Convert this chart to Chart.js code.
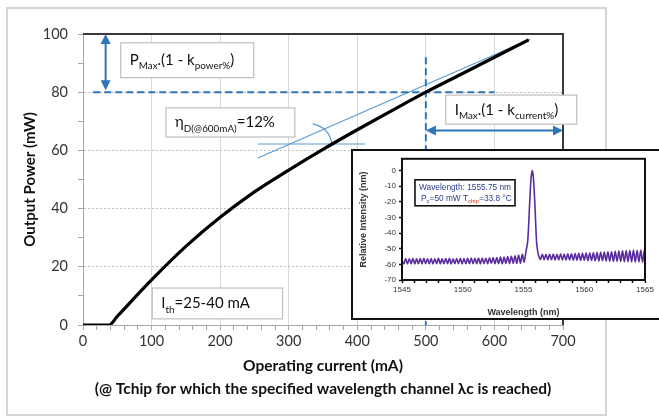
<!DOCTYPE html>
<html>
<head>
<meta charset="utf-8">
<script src="https://cdn.jsdelivr.net/npm/chart.js@4.4.1/dist/chart.umd.min.js"></script>
<style>
html, body { margin: 0; padding: 0; background: #fff; overflow: hidden; }
#wrap { position: relative; width: 659px; height: 418px; overflow: hidden; }
#inset { position: absolute; left: 351px; top: 149px; width: 330px; height: 171px;
         box-sizing: border-box; border: 2px solid #111; background: #fff; }
</style>
</head>
<body>
<div id="wrap">
  <canvas id="mainChart" width="659" height="418"></canvas>
  <div id="inset"><canvas id="specChart" width="326" height="167"></canvas></div>
</div>
<script>
// L-I curve (operating current vs output power)
const currentMa = [0, 20, 38, 50, 100, 150, 200, 250, 300, 350, 400, 450, 500, 550, 600, 650];
const powerMw   = [0, 0, 0, 3, 15.5, 27, 37, 45.75, 53.25, 60.35, 67.1, 73.6, 80, 86, 92, 98];

const xTicksMa  = [0, 100, 200, 300, 400, 500, 600, 700];
const yTicksMw  = [0, 20, 40, 60, 80, 100];

// spectrum for the inset
const specWl = [
  1545, 1545.15, 1545.3, 1545.45, 1545.6, 1545.75, 1545.9, 1546.05, 1546.2, 1546.35,
  1546.5, 1546.65, 1546.8, 1546.95, 1547.1, 1547.25, 1547.4, 1547.55, 1547.7, 1547.85,
  1548, 1548.15, 1548.3, 1548.45, 1548.6, 1548.75, 1548.9, 1549.05, 1549.2, 1549.35,
  1549.5, 1549.65, 1549.8, 1549.95, 1550.1, 1550.25, 1550.4, 1550.55, 1550.7, 1550.85,
  1551, 1551.15, 1551.3, 1551.45, 1551.6, 1551.75, 1551.9, 1552.05, 1552.2, 1552.35,
  1552.5, 1552.65, 1552.8, 1552.95, 1553.1, 1553.25, 1553.4, 1553.55, 1553.7, 1553.85,
  1554, 1554.15, 1554.3, 1554.45, 1554.6, 1554.75, 1554.9, 1555.05,
  1555.2, 1555.35, 1555.5, 1555.62, 1555.72, 1555.82, 1555.95, 1556.08, 1556.2, 1556.3,
  1556.4, 1556.55, 1556.7, 1556.85, 1557, 1557.15, 1557.3, 1557.45, 1557.6, 1557.75,
  1557.9, 1558.05, 1558.2, 1558.35, 1558.5, 1558.65, 1558.8, 1558.95, 1559.1, 1559.25,
  1559.4, 1559.55, 1559.7, 1559.85, 1560, 1560.15, 1560.3, 1560.45, 1560.6, 1560.75,
  1560.9, 1561.05, 1561.2, 1561.35, 1561.5, 1561.65, 1561.8, 1561.95, 1562.1, 1562.25,
  1562.4, 1562.55, 1562.7, 1562.85, 1563, 1563.15, 1563.3, 1563.45, 1563.6, 1563.75,
  1563.9, 1564.05, 1564.2, 1564.35, 1564.5, 1564.65, 1564.8, 1564.95, 1565
];
const specDb = [
  -57.5, -59.6, -56.3, -59.7, -56.4, -59.5, -56.2, -59.8, -56.5, -59.6,
  -56.3, -59.7, -56.2, -59.5, -56.4, -59.6, -56.3, -59.8, -56.4, -59.5,
  -56.2, -59.7, -56.5, -59.6, -56.3, -59.5, -56.2, -59.7, -56.4, -59.6,
  -56.3, -59.5, -56.1, -59.7, -56.3, -59.6, -56.2, -59.5, -56.0, -59.6,
  -56.2, -59.5, -56.0, -59.7, -55.9, -59.5, -56.1, -59.6, -55.8, -59.4,
  -55.7, -59.6, -55.6, -59.5, -55.4, -59.6, -55.3, -59.4, -55.0, -59.5,
  -54.8, -59.3, -54.5, -59.4, -54.0, -59.2, -53.5, -58.5,
  -52, -45, -22, -5, 0, -5, -24, -46, -53, -55.5,
  -56.8, -53.6, -57.0, -53.5, -57.1, -53.6, -57.0, -53.4, -57.2, -53.5,
  -57.1, -53.3, -57.2, -53.4, -57.3, -53.2, -57.2, -53.3, -57.4, -53.1,
  -57.3, -53.0, -57.5, -52.9, -57.4, -52.8, -57.6, -52.7, -57.5, -52.6,
  -57.7, -52.5, -57.8, -52.3, -57.7, -52.2, -57.9, -52.0, -58.0, -51.9,
  -58.1, -51.7, -58.0, -51.5, -58.2, -51.4, -58.3, -51.2, -58.3, -51.0,
  -58.4, -50.9, -58.5, -51.0, -58.4, -50.8, -58.6, -51.0, -57.0
];
const specXTicks = [1545, 1550, 1555, 1560, 1565];

// annotation geometry, in data units of the main chart
const pMaxTop = 100, pMaxLevel = 80, pArrowAt = 33;
const iMaxLevel = 500, iArrowTo = 700, iArrowAt = 66.8;
const dashFromMa = 15, dashToMa = 600, vDashTop = 92;
const tangentFrom = [255, 57.4], tangentTo = [652, 98.2];
const refLevel = 62.2, refFromMa = 255, refToMa = 411;
const arcPts = [[335, 69.1], [360, 67.7], [363, 62.2]];

const labelBoxes = [
  { x0: 55,  x1: 249, y0: 97,   y1: 85,  parts: [{t: 'P'}, {t: 'Max', sub: true}, {t: '.(1 - k'}, {t: 'power%', sub: true}, {t: ')'}] },
  { x0: 121, x1: 309, y0: 74.6, y1: 64.6, parts: [{t: 'η'}, {t: 'D(@600mA)', sub: true}, {t: '=12%'}] },
  { x0: 529, x1: 720, y0: 79,   y1: 69,  parts: [{t: 'I'}, {t: 'Max', sub: true}, {t: '.(1 - k'}, {t: 'current%', sub: true}, {t: ')'}] },
  { x0: 101, x1: 291, y0: 12.7, y1: 2.1, parts: [{t: 'I'}, {t: 'th', sub: true}, {t: '=25-40 mA'}] }
];

const FONT = 'Lato, "Open Sans", sans-serif';
const blue = '#2e75b6';
const thinBlue = '#5b9bd5';

function seg(ctx, x1, y1, x2, y2) {
  ctx.beginPath(); ctx.moveTo(x1, y1); ctx.lineTo(x2, y2); ctx.stroke();
}

function head(ctx, x, y, ang) {
  const L = 10, W = 5;
  ctx.beginPath();
  ctx.moveTo(x, y);
  ctx.lineTo(x - L * Math.cos(ang) + W * Math.sin(ang), y - L * Math.sin(ang) - W * Math.cos(ang));
  ctx.lineTo(x - L * Math.cos(ang) - W * Math.sin(ang), y - L * Math.sin(ang) + W * Math.cos(ang));
  ctx.closePath(); ctx.fill();
}

function dblArrow(ctx, x1, y1, x2, y2) {
  const a = Math.atan2(y2 - y1, x2 - x1);
  seg(ctx, x1 + 6 * Math.cos(a), y1 + 6 * Math.sin(a), x2 - 6 * Math.cos(a), y2 - 6 * Math.sin(a));
  head(ctx, x2, y2, a);
  head(ctx, x1, y1, a + Math.PI);
}

function richText(ctx, parts, x, y, size) {
  let cx = x;
  parts.forEach(p => {
    const s = p.sub ? size * 0.66 : size;
    ctx.font = s + 'px ' + FONT;
    ctx.fillStyle = p.color || '#111';
    ctx.fillText(p.t, cx, p.sub ? y + size * 0.28 : y);
    cx += ctx.measureText(p.t).width;
  });
}

const mainDecor = {
  id: 'mainDecor',
  beforeDraw(chart) {
    const ctx = chart.ctx;
    ctx.save();
    ctx.fillStyle = '#fff';
    ctx.fillRect(0, 0, chart.width, chart.height);
    ctx.strokeStyle = '#d4d4d4';
    ctx.lineWidth = 2;
    ctx.strokeRect(7, 8, 599, 407);
    ctx.restore();
  },
  beforeDatasetsDraw(chart) {
    const {ctx, scales: {x, y}} = chart;
    const px = v => x.getPixelForValue(v), py = v => y.getPixelForValue(v);
    ctx.save();
    // slope construction
    ctx.strokeStyle = thinBlue; ctx.lineWidth = 1.2;
    seg(ctx, px(tangentFrom[0]), py(tangentFrom[1]), px(tangentTo[0]), py(tangentTo[1]));
    seg(ctx, px(refFromMa), py(refLevel), px(refToMa), py(refLevel));
    ctx.beginPath();
    ctx.moveTo(px(arcPts[0][0]), py(arcPts[0][1]));
    ctx.quadraticCurveTo(px(arcPts[1][0]), py(arcPts[1][1]), px(arcPts[2][0]), py(arcPts[2][1]));
    ctx.stroke();
    // dashed limits
    ctx.strokeStyle = blue; ctx.lineWidth = 2; ctx.setLineDash([7, 4]);
    seg(ctx, px(dashFromMa), py(pMaxLevel), px(dashToMa), py(pMaxLevel));
    seg(ctx, px(iMaxLevel), py(vDashTop), px(iMaxLevel), py(0));
    ctx.restore();
  },
  afterDatasetsDraw(chart) {
    const {ctx, chartArea: ca, scales: {x, y}} = chart;
    const px = v => x.getPixelForValue(v), py = v => y.getPixelForValue(v);
    ctx.save();
    // top and right frame of the plot area
    ctx.strokeStyle = '#3a3a3a'; ctx.lineWidth = 2;
    ctx.beginPath(); ctx.moveTo(ca.left, ca.top); ctx.lineTo(ca.right, ca.top); ctx.lineTo(ca.right, ca.bottom); ctx.stroke();
    // arrows
    ctx.strokeStyle = blue; ctx.fillStyle = blue; ctx.lineWidth = 2;
    dblArrow(ctx, px(pArrowAt), py(pMaxTop), px(pArrowAt), py(pMaxLevel) - 2);
    dblArrow(ctx, px(iMaxLevel), py(iArrowAt), px(iArrowTo), py(iArrowAt));
    // label boxes
    ctx.textBaseline = 'alphabetic'; ctx.textAlign = 'left';
    labelBoxes.forEach(b => {
      const l = px(b.x0), r = px(b.x1), t = py(b.y0), btm = py(b.y1);
      ctx.fillStyle = '#fff';
      ctx.fillRect(l, t, r - l, btm - t);
      ctx.strokeStyle = '#bfbfbf'; ctx.lineWidth = 1.2;
      ctx.strokeRect(l, t, r - l, btm - t);
      richText(ctx, b.parts, l + 9, (t + btm) / 2 + 5, 15);
    });
    ctx.restore();
  }
};

new Chart(document.getElementById('mainChart'), {
  type: 'scatter',
  data: {
    datasets: [{
      data: currentMa.map((c, i) => ({x: c, y: powerMw[i]})),
      showLine: true,
      borderColor: '#000',
      borderWidth: 3.2,
      pointRadius: 0,
      cubicInterpolationMode: 'monotone'
    }]
  },
  options: {
    responsive: false,
    animation: false,
    devicePixelRatio: 1,
    layout: { padding: { left: 17, right: 96, top: 34, bottom: 0 } },
    plugins: { legend: { display: false }, tooltip: { enabled: false } },
    scales: {
      x: {
        type: 'linear', min: 0, max: 700,
        afterFit: s => { s.height = 93; },
        ticks: {
          stepSize: 20, autoSkip: false, maxRotation: 0, padding: 3,
          color: '#333', font: { family: FONT, size: 14.5 },
          callback: v => xTicksMa.includes(v) ? v : ''
        },
        grid: {
          color: c => (c.tick && xTicksMa.includes(c.tick.value) && c.tick.value > 0) ? '#d9d9d9' : 'rgba(0,0,0,0)',
          tickColor: '#a6a6a6', tickLength: 5
        },
        border: { color: '#a6a6a6', width: 1 },
        title: {
          display: true,
          text: ['Operating current (mA)', '(@ Tchip for which the specified wavelength channel λc is reached)'],
          color: '#111',
          font: { family: FONT, size: 15.5, weight: 'bold', lineHeight: 23 / 15.5 },
          padding: { top: 0, bottom: 17.5 }
        }
      },
      y: {
        min: 0, max: 100,
        afterFit: s => { s.width = 66; },
        ticks: {
          stepSize: 10, padding: 10, color: '#333', font: { family: FONT, size: 14.5 },
          callback: v => yTicksMw.includes(v) ? v : ''
        },
        grid: {
          color: c => (c.tick && yTicksMw.includes(c.tick.value) && c.tick.value > 0 && c.tick.value < 100) ? '#bfbfbf' : 'rgba(0,0,0,0)',
          tickColor: '#a6a6a6', tickLength: 5
        },
        border: { color: '#a6a6a6', width: 1, dash: [2, 2] },
        title: {
          display: true, text: 'Output Power (mW)', color: '#111',
          font: { family: FONT, size: 15, weight: 'bold' },
          padding: { top: 4, bottom: 4 }
        }
      }
    }
  },
  plugins: [mainDecor]
});

// inset: spectrum
const insetFont = 'Arial, "Liberation Sans", sans-serif';
const specDecor = {
  id: 'specDecor',
  beforeDraw(chart) {
    const ctx = chart.ctx;
    ctx.save(); ctx.fillStyle = '#fff'; ctx.fillRect(0, 0, chart.width, chart.height); ctx.restore();
  },
  afterDraw(chart) {
    const {ctx, chartArea: ca} = chart;
    ctx.save();
    ctx.strokeStyle = '#111'; ctx.lineWidth = 2;
    ctx.strokeRect(ca.left, ca.top, ca.right - ca.left, ca.bottom - ca.top);
    const bx = ca.left + 13, by = ca.top + 21, bw = 100, bh = 26;
    ctx.fillStyle = '#fff'; ctx.fillRect(bx, by, bw, bh);
    ctx.lineWidth = 1.6; ctx.strokeRect(bx, by, bw, bh);
    ctx.textAlign = 'left'; ctx.textBaseline = 'alphabetic';
    ctx.font = '8.3px ' + insetFont;
    ctx.fillStyle = '#2b3f8c';
    const l1 = 'Wavelength: 1555.75 nm';
    ctx.fillText(l1, bx + (bw - ctx.measureText(l1).width) / 2, by + 10.5);
    let cx = bx + 6;
    const parts = [['P', 8.3, '#2b3f8c', 0], ['c', 6, '#2b3f8c', 1.8], ['=50 mW T', 8.3, '#2b3f8c', 0], ['chip', 6, '#c0392b', 1.8], ['=33.8 °C', 8.3, '#2b3f8c', 0]];
    parts.forEach(p => {
      ctx.font = p[1] + 'px ' + insetFont;
      ctx.fillStyle = p[2];
      ctx.fillText(p[0], cx, by + 21.5 + p[3]);
      cx += ctx.measureText(p[0]).width;
    });
    ctx.restore();
  }
};

new Chart(document.getElementById('specChart'), {
  type: 'scatter',
  data: {
    datasets: [{
      data: specWl.map((w, i) => ({x: w, y: specDb[i]})),
      showLine: true,
      borderColor: '#5b2c9f',
      borderWidth: 1.6,
      pointRadius: 0,
      tension: 0.3
    }]
  },
  options: {
    responsive: false,
    animation: false,
    devicePixelRatio: 1,
    layout: { padding: { left: 1, right: 34, top: 5, bottom: 0 } },
    plugins: { legend: { display: false }, tooltip: { enabled: false } },
    scales: {
      x: {
        min: 1545, max: 1565,
        afterFit: s => { s.height = 38; },
        ticks: {
          stepSize: 1, autoSkip: false, maxRotation: 0, padding: 2,
          color: '#333', font: { family: insetFont, size: 8 },
          callback: v => specXTicks.includes(v) ? v : ''
        },
        grid: { drawOnChartArea: false, tickLength: 3, tickColor: '#111', tickWidth: 1.5 },
        border: { color: '#111', width: 2 },
        title: {
          display: true, text: 'Wavelength (nm)', color: '#333',
          font: { family: insetFont, size: 9, weight: 'bold' },
          padding: { top: 0, bottom: 0 }
        }
      },
      y: {
        min: -70, max: 7.5,
        afterFit: s => { s.width = 48; },
        ticks: {
          stepSize: 10, includeBounds: false, padding: 3,
          color: '#333', font: { family: insetFont, size: 8 }
        },
        grid: { drawOnChartArea: false, tickLength: 3, tickColor: '#111', tickWidth: 1.5 },
        border: { color: '#111', width: 2 },
        title: {
          display: true, text: 'Relative Intensity (nm)', color: '#333',
          font: { family: insetFont, size: 9, weight: 'bold' },
          padding: { top: 4, bottom: 0 }
        }
      }
    }
  },
  plugins: [specDecor]
});
</script>
</body>
</html>
